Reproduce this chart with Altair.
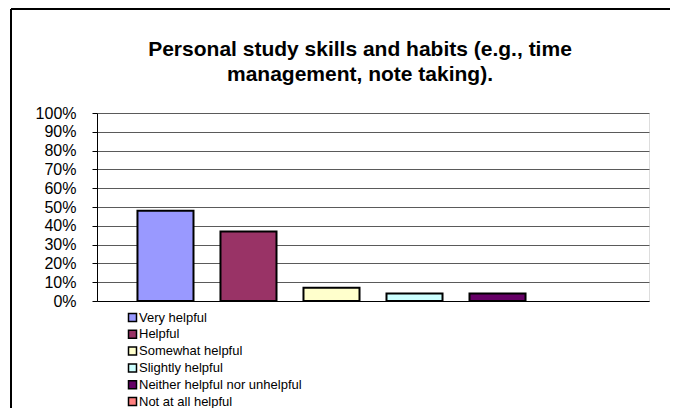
import altair as alt
import pandas as pd

categories = [
    "Very helpful",
    "Helpful",
    "Somewhat helpful",
    "Slightly helpful",
    "Neither helpful nor unhelpful",
    "Not at all helpful",
]
values = [0.48, 0.37, 0.07, 0.04, 0.04, 0.0]
colors = ["#9999FF", "#993366", "#FFFFCC", "#CCFFFF", "#660066", "#FF8080"]
y_ticks = [0, 0.1, 0.2, 0.3, 0.4, 0.5, 0.6, 0.7, 0.8, 0.9, 1.0]
title_lines = [
    "Personal study skills and habits (e.g., time",
    "management, note taking).",
]

df = pd.DataFrame({"category": categories, "value": values})
FONT = "Liberation Sans"

bars = (
    alt.Chart(df)
    .transform_filter("datum.value > 0")
    .mark_bar(stroke="black", strokeWidth=2)
    .encode(
        x=alt.X(
            "category:N",
            sort=categories,
            scale=alt.Scale(domain=categories, paddingInner=0.325, paddingOuter=0.4875),
            axis=alt.Axis(labels=False, ticks=False, title=None, domainColor="black",
                          domainWidth=1, grid=False),
        ),
        y=alt.Y(
            "value:Q",
            scale=alt.Scale(domain=[0, 1], nice=False),
            axis=alt.Axis(
                values=y_ticks,
                format=".0%",
                title=None,
                labelFont=FONT,
                labelFontSize=16,
                labelColor="black",
                labelPadding=16,
                tickSize=5,
                tickColor="black",
                domainColor="black",
                grid=True,
                gridColor="#5a5a5a",
                gridWidth=1,
            ),
        ),
        color=alt.Color(
            "category:N",
            sort=categories,
            scale=alt.Scale(domain=categories, range=colors),
            legend=alt.Legend(
                title=None,
                orient="none",
                legendX=29,
                legendY=198,
                symbolType="square",
                symbolSize=64,
                symbolStrokeColor="black",
                symbolStrokeWidth=1.5,
                symbolOpacity=1,
                labelFont=FONT,
                labelFontSize=13,
                labelColor="black",
                labelOffset=0,
                labelLimit=400,
                rowPadding=1.8,
                padding=0,
            ),
        ),
    )
)

title_df = pd.DataFrame({"k": [0]})
title = alt.Chart(title_df).mark_text(
    font=FONT,
    fontSize=21,
    fontWeight="bold",
    lineHeight=25,
    color="black",
    align="center",
    baseline="alphabetic",
).encode(
    x=alt.value(263),
    y=alt.value(-57),
    text=alt.value(title_lines),
)

one = pd.DataFrame({"k": [0]})
frame_top = alt.Chart(one).mark_rule(color="black", strokeWidth=2).encode(
    x=alt.value(-86), x2=alt.value(580), y=alt.value(-104)
)
frame_left = alt.Chart(one).mark_rule(color="black", strokeWidth=2).encode(
    x=alt.value(-86), y=alt.value(-104), y2=alt.value(300)
)

chart = (
    alt.layer(bars, title, frame_top, frame_left)
    .properties(
        width=552,
        height=188,
        padding={"left": 89, "top": 105, "right": 21, "bottom": 107},
        autosize=alt.AutoSizeParams(type="none"),
    )
    .configure_view(stroke="#5a5a5a", strokeWidth=1)
    .configure(background="white")
)

chart.save("out.html", embed_options={"renderer": "svg", "actions": False})
